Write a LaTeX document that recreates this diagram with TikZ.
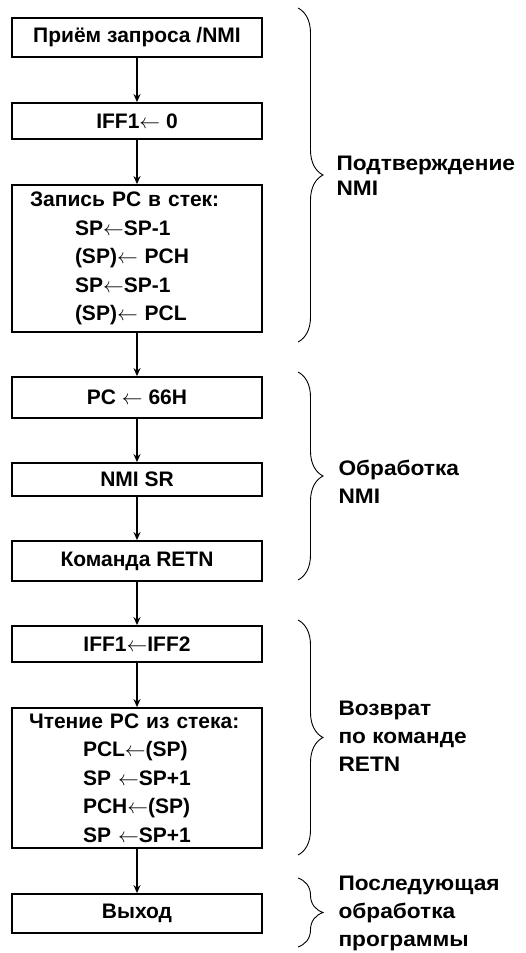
\documentclass[tikz,border=0pt]{standalone}
\usepackage{fontspec}
\setmainfont{Liberation Sans}
\newfontfamily\labfont{Liberation Sans}[FakeStretch=1.08]
\usetikzlibrary{arrows.meta,decorations.pathreplacing}
\newcommand\myarr{$\leftarrow$}
\begin{document}
\begin{tikzpicture}[x=1pt,y=-1pt,
  box/.style={draw,line width=1.8pt,minimum width=250pt,inner sep=0pt,font=\fontsize{21}{28.5}\selectfont\bfseries},
  lbox/.style={box,text width=214pt,inner xsep=18pt,align=left},
  conn/.style={line width=1.4pt,-{Stealth[length=8pt,width=7pt]}},
  brc/.style={decorate,decoration={brace,amplitude=25pt},line width=0.9pt},
  lab/.style={anchor=west,align=left,font=\labfont\fontsize{21}{28}\selectfont\bfseries}]
\useasboundingbox (0,0) rectangle (525,953);
\node[box,minimum height=39pt] (b1) at (137,37.5) {Приём запроса /NMI};
\node[box,minimum height=36pt] (b2) at (137,121) {IFF1\myarr\ 0};
\node[lbox,minimum height=147pt] (b3) at (137,258.5) {Запись PC в стек:\\
\hspace*{45pt}SP\myarr SP-1\\
\hspace*{45pt}(SP)\myarr\ PCH\\
\hspace*{45pt}SP\myarr SP-1\\
\hspace*{45pt}(SP)\myarr\ PCL};
\node[box,minimum height=41pt] (b4) at (137,397.5) {PC \myarr\ 66H};
\node[box,minimum height=33pt] (b5) at (137,479.5) {NMI SR};
\node[box,minimum height=40pt] (b6) at (137,561) {Команда RETN};
\node[box,minimum height=36pt] (b7) at (137,644) {IFF1\myarr IFF2};
\node[lbox,minimum height=140pt,text width=216pt,inner xsep=17pt] (b8) at (137,778) {Чтение PC из стека:\\
\hspace*{54pt}PCL\myarr(SP)\\
\hspace*{54pt}SP \myarr SP+1\\
\hspace*{54pt}PCH\myarr(SP)\\
\hspace*{54pt}SP \myarr SP+1};
\node[box,minimum height=39pt] (b9) at (137,913.5) {Выход};
\draw[conn] (b1) -- (b2);
\draw[conn] (b2) -- (b3);
\draw[conn] (b3) -- (b4);
\draw[conn] (b4) -- (b5);
\draw[conn] (b5) -- (b6);
\draw[conn] (b6) -- (b7);
\draw[conn] (b7) -- (b8);
\draw[conn] (b8) -- (b9);
\coordinate (r1a) at (298,8);
\coordinate (r1b) at (298,342);
\coordinate (r2a) at (298,372);
\coordinate (r2b) at (298,580);
\coordinate (r3a) at (298,620);
\coordinate (r3b) at (298,855);
\coordinate (r4a) at (298,878);
\coordinate (r4b) at (298,947);
\draw[brc] (r1a) -- (r1b);
\draw[brc] (r2a) -- (r2b);
\draw[brc] (r3a) -- (r3b);
\draw[brc] (r4a) -- (r4b);
\node[lab,font=\labfont\fontsize{21}{25}\selectfont\bfseries] (l1) at (333,176) {Подтверждение\\NMI};
\node[lab] (l2) at (335,482) {Обработка\\NMI};
\node[lab] (l3) at (335,736) {Возврат\\по команде\\RETN};
\node[lab] (l4) at (335,913) {Последующая\\обработка\\программы};
\end{tikzpicture}
\end{document}
